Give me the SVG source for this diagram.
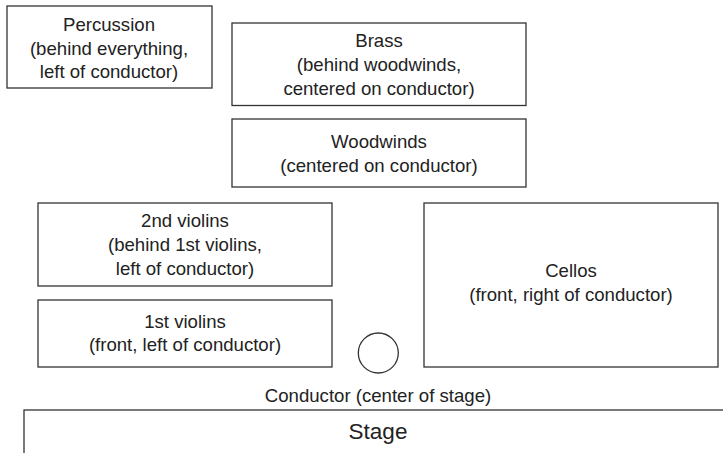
<svg xmlns="http://www.w3.org/2000/svg" width="723" height="453" viewBox="0 0 723 453">
<style>
.box{fill:#fff;stroke:#333;stroke-width:1.3}
text{font-family:"Liberation Sans",Arial,sans-serif;font-size:18.6px;fill:#222;text-anchor:middle}
.big{font-size:22.5px}
</style>
<rect width="723" height="453" fill="#fff"/>
<g id="percussion">
<rect class="box" x="7" y="6" width="205" height="82"/>
<text x="109" y="30.8">Percussion</text>
<text x="109" y="54.6">(behind everything,</text>
<text x="109" y="78.4">left of conductor)</text>
</g>
<g id="brass">
<rect class="box" x="232" y="23" width="294" height="82.5"/>
<text x="379" y="47">Brass</text>
<text x="379" y="70.8">(behind woodwinds,</text>
<text x="379" y="94.6">centered on conductor)</text>
</g>
<g id="woodwinds">
<rect class="box" x="232" y="119" width="294" height="68"/>
<text x="379" y="148">Woodwinds</text>
<text x="379" y="171.8">(centered on conductor)</text>
</g>
<g id="violins2">
<rect class="box" x="38" y="203" width="294" height="83"/>
<text x="185" y="227">2nd violins</text>
<text x="185" y="250.8">(behind 1st violins,</text>
<text x="185" y="274.6">left of conductor)</text>
</g>
<g id="violins1">
<rect class="box" x="38" y="300" width="294" height="67"/>
<text x="185" y="327.5">1st violins</text>
<text x="185" y="351.3">(front, left of conductor)</text>
</g>
<g id="cellos">
<rect class="box" x="424" y="203" width="294" height="164"/>
<text x="571" y="276.8">Cellos</text>
<text x="571" y="300.6">(front, right of conductor)</text>
</g>
<g id="conductor">
<circle class="box" cx="378.3" cy="353" r="20"/>
<text x="378" y="401.5">Conductor (center of stage)</text>
</g>
<g id="stage">
<rect class="box" x="24" y="410" width="720" height="60"/>
<text class="big" x="378" y="439">Stage</text>
</g>
<g id="connectors"/>
</svg>
